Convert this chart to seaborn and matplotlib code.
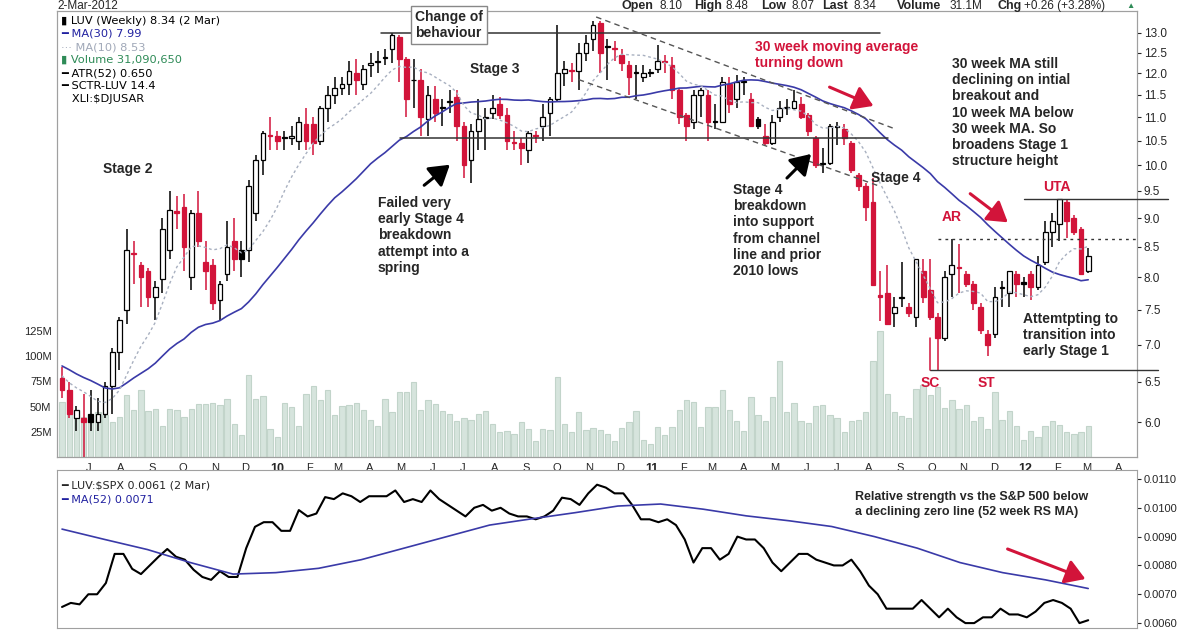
import numpy as np
import pandas as pd
import matplotlib
matplotlib.use("Agg")
import matplotlib.pyplot as plt
import matplotlib.dates as mdates
from matplotlib.patches import FancyArrowPatch
import seaborn as sns

sns.set_style("white")
plt.rcParams['font.family'] = ['Liberation Sans', 'DejaVu Sans']

# ---------------- data ----------------
end_date = "2012-03-02"
opens = [6.55,6.4,6.05,6.05,6.1,6.0,6.1,6.45,6.9,7.5,8.4,8.2,8.1,7.7,7.98,8.45,9.12,9.2,8.0,9.1,8.25,8.2,7.65,8.05,8.6,8.45,8.45,9.1,10.1,10.62,10.6,10.56,10.55,10.5,10.85,10.85,10.5,11.2,11.5,11.65,11.75,12.0,11.75,12.2,12.28,12.38,12.6,12.9,12.35,11.83,11.85,10.95,11.4,11.22,11.33,11.45,10.8,10.1,10.7,10.98,11.1,11.3,11.05,10.47,10.45,10.3,10.62,10.8,11.1,11.4,12.0,12.07,12.05,12.5,12.85,13.25,12.68,12.62,12.45,12.2,12.0,11.9,12.0,12.1,12.3,12.2,11.6,11.05,10.9,11.5,11.5,10.92,10.9,11.75,11.4,11.82,11.4,10.95,10.6,10.45,11.0,11.22,11.2,11.3,11.05,10.55,10.03,10.05,10.78,10.75,10.45,9.8,9.6,9.3,7.72,7.75,7.45,7.68,7.55,7.4,8.1,7.8,7.4,7.1,8.05,8.17,8.05,7.9,7.55,7.15,7.15,7.83,7.75,8.05,7.92,8.05,7.85,8.25,8.75,8.9,9.3,9.0,8.8,8.10]
highs = [6.7,6.5,6.2,6.35,6.4,6.3,6.5,6.95,7.4,8.8,8.6,8.25,8.15,7.95,9.0,9.5,9.4,9.45,9.15,9.5,8.6,8.3,7.95,8.95,9.0,8.6,9.7,10.2,10.7,11.0,10.7,10.7,10.8,11.0,11.2,11.0,11.25,11.7,11.9,11.9,12.3,12.35,12.2,12.5,12.55,12.6,13.0,12.95,12.4,12.35,12.1,11.7,11.7,11.4,11.6,11.6,10.9,10.85,11.4,11.2,11.5,11.45,11.2,10.7,10.55,10.7,10.7,11.3,11.45,13.2,12.3,12.25,12.75,12.95,13.3,13.3,12.85,12.8,12.6,12.3,12.2,12.2,12.1,12.7,12.45,12.4,11.65,11.1,11.6,11.65,11.6,11.3,11.9,11.9,11.95,11.9,11.55,11.0,10.85,11.05,11.35,11.4,11.6,11.45,11.1,10.6,10.35,10.85,10.9,10.85,10.5,9.85,9.65,9.75,8.1,8.2,7.7,8.25,7.6,8.3,8.3,8.3,7.45,8.1,8.63,8.55,8.1,7.95,7.6,7.2,7.85,7.95,8.1,8.1,8.0,8.1,8.35,8.95,9.1,9.35,9.35,9.05,8.85,8.48]
lows = [6.3,6.05,5.9,5.5,5.9,5.9,6.05,6.1,6.65,7.3,7.9,7.55,7.55,7.35,7.75,8.3,8.8,8.1,7.8,8.5,7.8,7.5,7.35,7.95,8.1,8.0,8.25,8.95,9.8,10.3,10.3,10.3,10.4,10.3,10.3,10.2,10.4,10.9,11.3,11.5,11.5,11.5,11.6,11.9,12.0,12.2,12.25,11.8,11.0,11.2,10.6,10.6,10.9,10.8,11.1,10.5,9.75,9.65,10.3,10.3,10.95,10.95,10.3,10.3,10.0,10.05,10.45,10.5,10.6,11.35,11.7,11.8,11.6,12.3,12.55,12.0,11.85,12.3,12.05,11.5,11.4,11.8,11.9,12.0,12.0,11.4,10.85,10.5,10.75,11.0,10.5,10.75,10.9,11.1,11.2,11.5,10.8,10.75,10.4,10.4,10.9,11.05,11.15,10.95,10.6,9.95,9.85,10.0,10.4,10.4,9.85,9.5,8.95,7.9,7.34,7.3,7.25,7.55,7.4,7.25,7.6,7.35,6.65,7.05,7.7,7.75,7.85,7.5,7.15,6.85,7.1,7.55,7.55,7.7,7.7,7.65,7.8,8.2,8.5,8.6,8.65,8.7,8.05,8.07]
closes = [6.4,6.1,6.15,6.0,6.0,6.1,6.45,6.9,7.35,8.45,8.38,8.0,7.7,7.85,8.8,9.15,9.1,8.5,9.1,8.6,8.1,7.6,7.9,8.5,8.3,8.3,9.6,10.1,10.65,10.6,10.5,10.55,10.6,10.9,10.5,10.45,11.2,11.5,11.65,11.75,12.05,11.85,12.1,12.25,12.3,12.4,12.95,12.35,11.4,11.85,11.0,11.5,11.1,11.2,11.35,10.8,10.0,10.7,10.95,11.0,11.2,11.05,10.5,10.45,10.35,10.65,10.6,11.0,11.4,12.0,12.1,12.05,12.5,12.75,13.2,12.5,12.65,12.6,12.25,11.9,12.0,12.0,12.02,12.3,12.28,11.6,11.0,10.8,11.5,11.6,10.9,10.9,11.8,11.3,11.8,11.8,10.8,10.8,10.45,10.9,11.2,11.2,11.35,11.0,10.7,10.0,10.05,10.8,10.8,10.55,9.9,9.6,9.2,7.88,7.7,7.3,7.55,7.7,7.45,8.3,7.7,7.4,7.1,8.0,8.2,8.15,7.9,7.6,7.2,7.0,7.7,7.85,8.1,7.9,7.9,7.85,8.2,8.75,8.95,9.35,8.95,8.75,8.05,8.34]
prior_closes = [7.6,7.8,7.4,7.2,7.5,7.9,7.3,6.9,6.6,6.4,6.2,5.9,5.6,5.9,6.3,6.8,6.6,6.3,6.4,6.9,7.0,6.8,6.5,6.6,6.7,6.6,6.4,6.3,6.5]
volume_m = [55,66,42,40,38,45,42,35,40,61,47,66,46,48,31,48,47,40,48,53,53,54,52,57,33,22,81,57,60,28,20,54,50,31,62,70,56,66,42,51,52,54,47,37,31,57,45,64,64,74,47,56,53,
            46,43,36,39,37,43,46,33,25,26,23,35,28,16,28,27,79,33,25,45,27,29,27,23,16,29,35,46,17,13,30,22,30,47,56,55,30,50,50,66,47,36,26,
            59,42,36,59,95,45,54,36,34,51,52,42,39,25,36,37,45,95,125,62,45,41,39,67,71,61,69,49,56,48,52,36,40,28,64,37,46,31,17,26,20,31,36,32,25,23,25,31]
rs_values = [0.00656,0.0067,0.00665,0.0070,0.0070,0.00739,0.0084,0.0084,0.00788,0.0077,0.0080,0.0083,0.00857,0.0083,0.0082,0.00785,0.0076,0.0075,0.0078,0.0076,0.0076,0.0086,0.00934,0.0095,0.0095,0.0092,0.0092,0.00992,0.0097,0.0098,0.01037,0.0103,0.0105,0.0104,0.0102,0.0104,0.0104,0.0104,0.0106,0.0102,0.0103,0.0102,0.0106,0.0103,0.0101,0.0099,0.0097,0.0100,0.0101,0.0099,0.0100,0.0098,0.0097,0.0097,0.0096,0.0097,0.0099,0.01035,0.0103,0.0101,0.0105,0.0108,0.0107,0.0105,0.0105,0.0101,0.0096,0.0096,0.0095,0.0096,0.0094,0.0089,0.0081,0.0086,0.0086,0.0082,0.0084,0.0090,0.0089,0.0089,0.0086,0.0081,0.0078,0.0081,0.0084,0.0084,0.0082,0.0081,0.0080,0.0080,0.0082,0.0078,0.0073,0.0070,0.0065,0.0065,0.0065,0.0065,0.0068,0.0065,0.0062,0.0065,0.0062,0.0060,0.0060,0.0062,0.0062,0.0065,0.0063,0.0063,0.0062,0.0064,0.0067,0.0068,0.0067,0.0065,0.0060,0.0061]
rs_ma52 = [0.00926,0.0089,0.00855,0.0081,0.0077,0.00775,0.0079,0.0082,0.0086,0.0090,0.0094,0.00962,0.00983,0.01006,0.01013,0.00995,0.00972,0.00955,0.00935,0.0090,0.0086,0.0081,0.00775,0.0075,0.0072]
price_ticks = [6.0,6.5,7.0,7.5,8.0,8.5,9.0,9.5,10.0,10.5,11.0,11.5,12.0,12.5,13.0]
vol_ticks = [25,50,75,100,125]
rs_ticks = [0.0060,0.0070,0.0080,0.0090,0.0100,0.0110]

n = len(closes)
dates = pd.date_range(end=end_date, periods=n, freq="7D")
O = np.array(opens); H = np.array(highs); L = np.array(lows); C = np.array(closes)
allc = pd.Series(prior_closes + closes)
ma30 = allc.rolling(30).mean().values[-n:]
ma10 = allc.rolling(10).mean().values[-n:]

W, Hh = 1200, 630
fig = plt.figure(figsize=(12, 6.3), dpi=100)
def rect(x0, y0, x1, y1):
    return [x0 / W, 1 - y1 / Hh, (x1 - x0) / W, (y1 - y0) / Hh]
def P(x, y):
    return (x / W, 1 - y / Hh)

xl = (mdates.date2num(dates[0]) - 0.7 * 7, mdates.date2num(dates[-1]) + 6.8 * 7)

axv = fig.add_axes(rect(57, 11, 1137, 457))
ax = fig.add_axes(rect(57, 11, 1137, 457))
ax.patch.set_alpha(0)
axr = fig.add_axes(rect(57, 470, 1137, 628))

# volume
axv.bar(dates, volume_m, width=5.2, color="#d6e4dd", edgecolor="#c2d4ca", linewidth=0.8)
axv.set_ylim(0, 442)
axv.set_xlim(xl)
axv.set_yticks(vol_ticks)
axv.set_yticklabels([f"{v}M" for v in vol_ticks], fontsize=8)
axv.set_xticks([])
axv.tick_params(axis='y', length=3, pad=1)

# candles
red = "#d2143a"
prev = np.concatenate([[O[0]], C[:-1]])
cols = [red if c < p else "black" for c, p in zip(C, prev)]
faces = [col if c < o else "white" for col, c, o in zip(cols, C, O)]
ax.vlines(dates, L, H, colors=cols, linewidth=1.1, zorder=2)
bot = np.minimum(O, C)
hgt = np.maximum(np.abs(C - O), 0.02)
ax.bar(dates, hgt, bottom=bot, width=4.6, color=faces, edgecolor=cols, linewidth=0.9, zorder=3)

sns.lineplot(x=dates, y=ma30, ax=ax, color="#3a3aa8", linewidth=1.2, zorder=4)
sns.lineplot(x=dates, y=ma10, ax=ax, color="#a8b0c0", linewidth=1.0, linestyle=(0, (2, 2)), zorder=4)

ax.set_yscale("log")
ax.set_ylim(5.60, 13.58)
ax.set_xlim(xl)
ax.yaxis.tick_right()
ax.set_yticks(price_ticks)
ax.set_yticklabels([f"{t:.1f}" for t in price_ticks], fontsize=8.5)
ax.yaxis.set_minor_locator(matplotlib.ticker.NullLocator())
ax.tick_params(axis='y', length=3, pad=2)

months = pd.date_range("2009-07-01", "2012-04-01", freq="MS")
ax.set_xticks(months)
labs = [("%02d" % (m.year % 100)) if m.month == 1 else m.strftime("%b")[0] for m in months]
ax.set_xticklabels(labs, fontsize=8)
for t, m in zip(ax.get_xticklabels(), months):
    if m.month == 1:
        t.set_fontweight("bold"); t.set_fontsize(9)
ax.tick_params(axis='x', length=3, pad=1)
for a in (ax, axv, axr):
    for s in a.spines.values():
        s.set_color("#a0a0a0"); s.set_linewidth(0.8)
ax.set_xlabel(""); ax.set_ylabel(""); axv.set_ylabel("")

# horizontal structure lines
d = lambda s: mdates.date2num(pd.Timestamp(s))
ax.plot([d("2010-04-12"), d("2011-08-12")], [13.0, 13.0], color="#333333", lw=1.1, zorder=5)
ax.plot([d("2010-05-01"), d("2011-08-20")], [10.55, 10.55], color="#333333", lw=1.1, zorder=5)
ax.plot([d("2010-11-08"), d("2011-08-26")], [13.42, 10.75], color="#555555", lw=1.0, ls=(0, (4, 3)), zorder=5)
ax.plot([d("2010-10-22"), d("2011-08-10")], [11.85, 9.6], color="#555555", lw=1.0, ls=(0, (4, 3)), zorder=5)
ax.plot([d("2011-10-07"), xl[1]], [8.63, 8.63], color="#333333", lw=1.0, ls=(0, (2, 3)), zorder=5)
ax.plot([d("2011-12-30"), xl[1] + 30], [9.35, 9.35], color="#333333", lw=1.0, zorder=5, clip_on=False)
ax.plot([d("2011-09-30"), xl[1] + 20], [6.65, 6.65], color="#333333", lw=1.0, zorder=5, clip_on=False)
ax.plot([d("2011-09-30"), d("2011-09-30")], [6.65, 7.1], color=red, lw=1.1, zorder=5)

# RS panel
rs_dates = pd.date_range(dates[0], dates[-1], periods=len(rs_values))
ma_dates = pd.date_range(dates[0], dates[-1], periods=len(rs_ma52))
sns.lineplot(x=rs_dates, y=rs_values, ax=axr, color="black", linewidth=1.5)
sns.lineplot(x=ma_dates, y=rs_ma52, ax=axr, color="#3a3aa8", linewidth=1.2)
axr.set_xlim(xl)
axr.set_ylim(0.00583, 0.01131)
axr.yaxis.tick_right()
axr.set_yticks(rs_ticks)
axr.set_yticklabels([f"{t:.4f}" for t in rs_ticks], fontsize=8)
axr.set_xticks(months)
axr.set_xticklabels([])
axr.tick_params(axis='x', direction='in', length=2)
axr.tick_params(axis='y', length=3, pad=2)
axr.set_xlabel(""); axr.set_ylabel("")

# header texts
fig.text(*P(57, 6), "2-Mar-2012", fontsize=8.5, va="center")
hdr = [(621, "Open", True), (660, "8.10", False), (694, "High", True), (726, "8.48", False),
       (761, "Low", True), (791, "8.07", False), (822, "Last", True), (854, "8.34", False),
       (897, "Volume", True), (950, "31.1M", False), (998, "Chg", True), (1024, "+0.26 (+3.28%)", False)]
for x, s, b in hdr:
    fig.text(*P(x, 6), s, fontsize=9 if b else 8.5, va="center", fontweight="bold" if b else "normal")
fig.text(*P(1126, 6), "▲", fontsize=6, color="#2e8b57", va="center")

leg = [("LUV (Weekly) 8.34 (2 Mar)", "black", "▮ "), ("MA(30) 7.99", "#2020a0", "━ "), ("MA(10) 8.53", "#a0a8b8", "··· "),
       ("Volume 31,090,650", "#2e8b57", "▮ "), ("ATR(52) 0.650", "black", "━ "), ("SCTR-LUV 14.4", "black", "━ "), ("XLI:$DJUSAR", "black", "   ")]
for k, (s, c, m) in enumerate(leg):
    fig.text(*P(61, 21 + 13 * k), m + s, fontsize=8.2, color=c, va="center", family=['DejaVu Sans'])
fig.text(*P(61, 486), "━ LUV:$SPX 0.0061 (2 Mar)", fontsize=8, va="center", family=['DejaVu Sans'])
fig.text(*P(61, 500), "━ MA(52) 0.0071", fontsize=8, color="#2020a0", va="center", family=['DejaVu Sans'])

# annotations
B = dict(fontsize=10, fontweight="bold", va="top", ha="left", linespacing=1.2)
fig.text(*P(415, 10), "Change of\nbehaviour", bbox=dict(boxstyle="square,pad=0.3", fc="white", ec="#888888", lw=1), **B)
fig.text(*P(470, 62), "Stage 3", **B)
fig.text(*P(103, 162), "Stage 2", **B)
fig.text(*P(378, 196), "Failed very\nearly Stage 4\nbreakdown\nattempt into a\nspring", **B)
fig.text(*P(755, 40), "30 week moving average\nturning down", color=red, **B)
fig.text(*P(952, 57), "30 week MA still\ndeclining on intial\nbreakout and\n10 week MA below\n30 week MA. So\nbroadens Stage 1\nstructure height", **B)
fig.text(*P(733, 183), "Stage 4\nbreakdown\ninto support\nfrom channel\nline and prior\n2010 lows", **B)
fig.text(*P(871, 171), "Stage 4", **B)
fig.text(*P(1043, 180), "UTA", color=red, **B)
fig.text(*P(942, 210), "AR", color=red, **B)
fig.text(*P(921, 376), "SC", color=red, **B)
fig.text(*P(978, 376), "ST", color=red, **B)
fig.text(*P(1023, 312), "Attemtpting to\ntransition into\nearly Stage 1", **B)
fig.text(*P(855, 491), "Relative strength vs the S&P 500 below\na declining zero line (52 week RS MA)",
         fontsize=9, fontweight="bold", va="top", ha="left", linespacing=1.35, family=['Liberation Sans Narrow', 'Liberation Sans'])

def arrow(x0, y0, x1, y1, c):
    fig.patches.append(FancyArrowPatch(P(x0, y0), P(x1, y1), transform=fig.transFigure,
                                       arrowstyle="-|>,head_length=8,head_width=5", color=c, lw=2.2, mutation_scale=1.5))
arrow(422, 187, 452, 163, "black")
arrow(785, 180, 813, 152, "black")
arrow(827, 86, 876, 107, red)
arrow(968, 192, 1010, 224, red)
arrow(1005, 548, 1088, 580, red)

fig.savefig("out.png", dpi=100)
